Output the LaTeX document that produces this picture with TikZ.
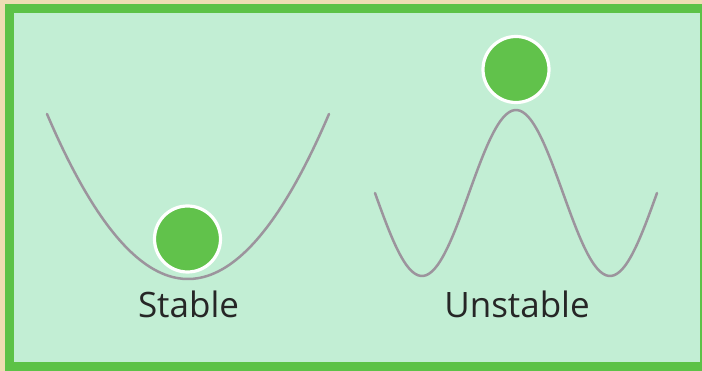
\documentclass[tikz,border=0pt]{standalone}
\usepackage{fontspec}
\setmainfont{Open Sans}
\definecolor{beige}{HTML}{EEDDB3}
\definecolor{framegreen}{HTML}{5CC247}
\definecolor{panel}{HTML}{C2EED4}
\definecolor{ballgreen}{HTML}{61C24B}
\definecolor{curvegray}{HTML}{9C949D}
\definecolor{txt}{HTML}{262626}
\begin{document}
\begin{tikzpicture}[x=1pt,y=-1pt,
  ball/.style={circle,fill=ballgreen,draw=white,line width=3.2pt,minimum size=66pt,inner sep=0pt},
  curve/.style={draw=curvegray,line width=2.5pt,line cap=round},
  label/.style={font=\fontsize{35}{38}\selectfont,text=txt,anchor=base,inner sep=0pt}]
\useasboundingbox (0,0) rectangle (702,371);
\fill[beige] (0,0) rectangle (702,371);
\fill[framegreen] (5,4) rectangle (702,371);
\fill[panel] (14,13) rectangle (700,362);
% stable parabola
\draw[curve,domain=47:329,samples=80,smooth] plot (\x,{279-0.0083*(\x-188)*(\x-188)});
% unstable cosine
\draw[curve,domain=375:657,samples=100,smooth] plot (\x,{193-83*cos(1.91489*(\x-516))});
\node[ball] (b1) at (187.5,239) {};
\node[ball] (b2) at (516,69.5) {};
\node[label] (t1) at (188.5,318) {Stable};
\node[label] (t2) at (517,318) {Unstable};
\end{tikzpicture}
\end{document}
